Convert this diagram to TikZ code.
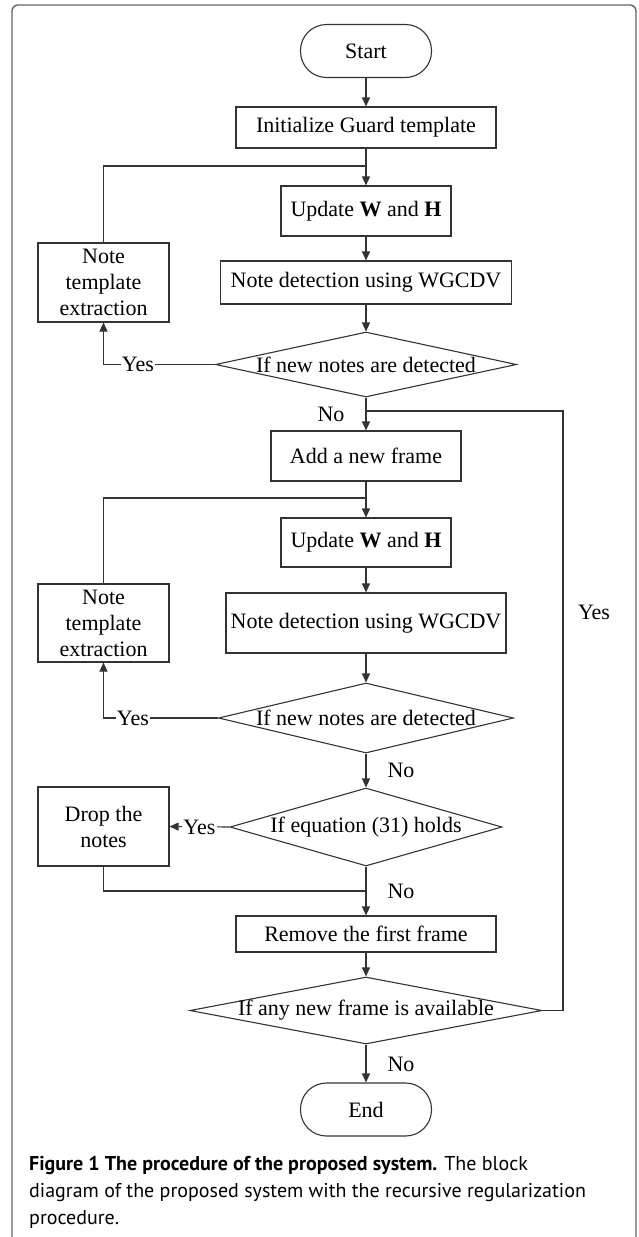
\documentclass[tikz,border=0pt]{standalone}
\usepackage{fontspec}
\setmainfont{Liberation Serif}
\newfontfamily\capfont{PT Sans}
\usetikzlibrary{arrows.meta,shapes.geometric}
\definecolor{ln}{HTML}{333333}
\definecolor{frm}{HTML}{666666}
\tikzset{
  box/.style={draw=ln, line width=1.1pt, rectangle, inner sep=0pt, align=center, font=\fontsize{22}{26}\selectfont},
  term/.style={box, rounded corners=26pt},
  dec/.style={draw=ln, line width=1.1pt, diamond, inner sep=0pt, font=\fontsize{22}{26}\selectfont},
  conn/.style={draw=ln, line width=1.1pt},
  arr/.style={conn, -{Triangle[length=9pt,width=8pt]}},
  lbl/.style={inner sep=1pt, font=\fontsize{22}{26}\selectfont},
  wlbl/.style={lbl, fill=white},
  captxt/.style={anchor=base west, inner sep=0pt, font=\capfont\fontsize{20}{27}\selectfont}
}
\begin{document}
\begin{tikzpicture}[x=1pt,y=-1pt]
\useasboundingbox (0,0) rectangle (638,1237);
% frame
\draw[frm, line width=1.4pt, rounded corners=6pt] (12,1240) -- (12,5) -- (636,5) -- (636,1240);
% nodes
\node[term, minimum width=131pt, minimum height=53pt] (start) at (366,51) {Start};
\node[box, minimum width=260pt, minimum height=41pt] (init) at (366,127.5) {Initialize Guard template};
\node[box, minimum width=170pt, minimum height=50pt] (upd1) at (366,211) {Update \textbf{W} and \textbf{H}};
\node[box, minimum width=291pt, minimum height=43pt] (det1) at (366,282.5) {Note detection using WGCDV};
\node[box, minimum width=131pt, minimum height=79pt] (nte1) at (103.5,282.5) {Note\\template\\extraction};
\node[dec, minimum width=301pt, minimum height=65pt] (dia1) at (366,364.5) {\makebox[0pt]{If new notes are detected}};
\node[box, minimum width=190pt, minimum height=50pt] (add) at (366,456) {Add a new frame};
\node[box, minimum width=170pt, minimum height=49pt] (upd2) at (366,542.5) {Update \textbf{W} and \textbf{H}};
\node[box, minimum width=280pt, minimum height=60pt] (det2) at (366,623) {Note detection using WGCDV};
\node[box, minimum width=131pt, minimum height=78pt] (nte2) at (103.5,623) {Note\\template\\extraction};
\node[dec, minimum width=295pt, minimum height=70pt] (dia2) at (366,718) {\makebox[0pt]{If new notes are detected}};
\node[dec, minimum width=272pt, minimum height=78pt] (dia3) at (366,827) {\makebox[0pt]{If equation (31) holds}};
\node[box, minimum width=131pt, minimum height=79pt] (drop) at (103.5,826.5) {Drop the\\notes};
\node[box, minimum width=260pt, minimum height=36pt] (rem) at (366,934) {Remove the first frame};
\node[dec, minimum width=352pt, minimum height=67pt] (dia4) at (366,1010.5) {\makebox[0pt]{If any new frame is available}};
\node[term, minimum width=131pt, minimum height=53pt] (end) at (366,1109.5) {End};
% junctions
\coordinate (j1) at (366,166);
\coordinate (j2) at (366,411);
\coordinate (j3) at (366,498);
\coordinate (j4) at (366,891);
\coordinate (rl) at (563,411);
% connectors
\draw[arr] (start) -- (init);
\draw[arr] (init) -- (upd1);
\draw[conn] (nte1.north) |- (j1);
\draw[arr] (upd1) -- (det1);
\draw[arr] (det1) -- (dia1);
\draw[arr] (dia1.west) -| (nte1.south);
\draw[arr] (dia1.south) -- (add.north);
\draw[arr] (add) -- (upd2);
\draw[conn] (nte2.north) |- (j3);
\draw[arr] (upd2) -- (det2);
\draw[arr] (det2) -- (dia2);
\draw[arr] (dia2.west) -| (nte2.south);
\draw[arr] (dia2.south) -- (dia3.north);
\draw[arr] (dia3.west) -- (drop.east);
\draw[conn] (drop.south) |- (j4);
\draw[arr] (dia3.south) -- (rem.north);
\draw[arr] (rem) -- (dia4);
\draw[conn] (dia4.east) -| (rl) -- (j2);
\draw[arr] (dia4.south) -- (end.north);
% labels
\node[wlbl] (y1) at (138,364.5) {Yes};
\node[wlbl] (y2) at (133,718) {Yes};
\node[wlbl] (y3) at (199.5,827) {Yes};
\node[lbl] (y4) at (594,612) {Yes};
\node[lbl] (n1) at (331,414) {No};
\node[lbl] (n2) at (401,770) {No};
\node[lbl] (n3) at (401,891) {No};
\node[lbl] (n4) at (401,1064) {No};
% caption
\node[captxt] (c1) at (29,1170) {\textbf{Figure 1 The procedure of the proposed system.} The block};
\node[captxt] (c2) at (29,1197) {diagram of the proposed system with the recursive regularization};
\node[captxt] (c3) at (29,1224) {procedure.};
\end{tikzpicture}
\end{document}
